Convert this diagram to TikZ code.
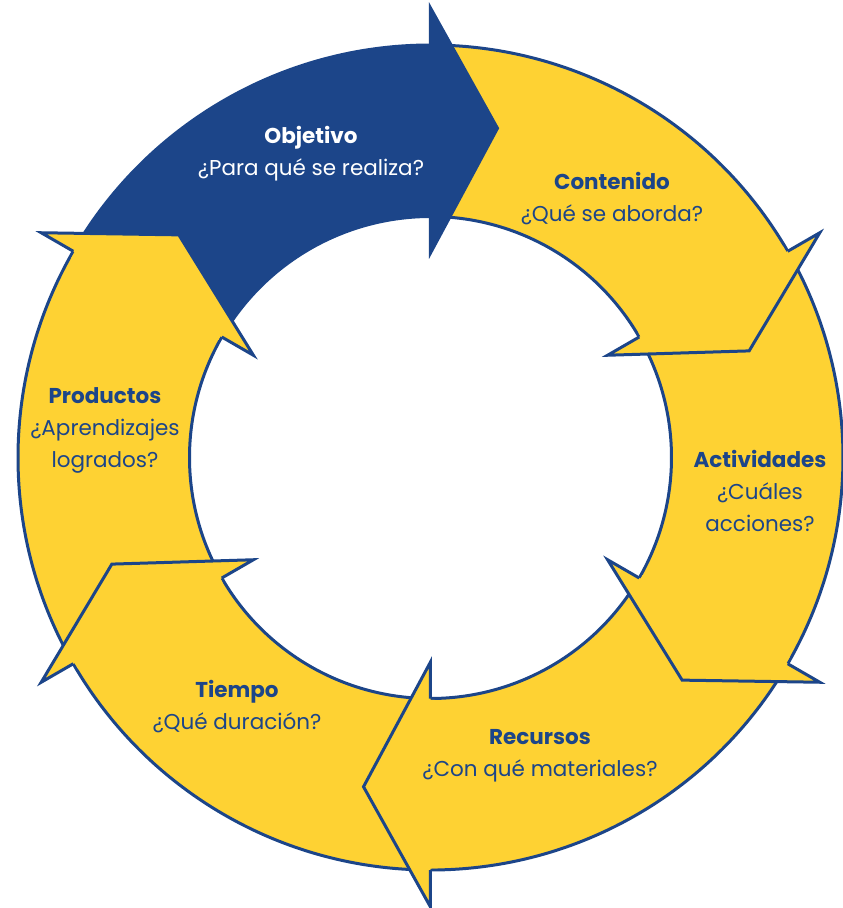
\documentclass[tikz,border=0pt]{standalone}
\usepackage{fontspec}
\setmainfont{Poppins}
\definecolor{azul}{HTML}{1C4589}
\definecolor{amarillo}{HTML}{FED233}
\tikzset{
  ciclo/.style={font=\fontsize{21.5}{32}\selectfont, align=center, text=azul},
  borde/.style={draw=azul, line width=3pt, line join=miter},
}
\begin{document}
\begin{tikzpicture}[x=1pt,y=1pt]
\useasboundingbox (-430.5,-450.5) rectangle (412.5,457.5);
% cuerpos de las flechas (con su punta)
\foreach \h/\c in {30/amarillo,-30/amarillo,-90/amarillo,-150/amarillo,150/amarillo,90/azul}{
  \fill[\c] ({\h+60}:412.5) arc[start angle=\h+60, end angle=\h, radius=412.5]
    -- (\h:449.5) -- ({\h-11.5}:336) -- (\h:204.5)
    -- (\h:241) arc[start angle=\h, end angle=\h+60, radius=241] -- cycle;
  \draw[borde] ({\h+60}:412.5) arc[start angle=\h+60, end angle=\h, radius=412.5];
  \draw[borde] (\h:241) arc[start angle=\h, end angle=\h+60, radius=241];
}
% puntas de las flechas, encima de la cola siguiente
\foreach \h/\c in {30/amarillo,-30/amarillo,-90/amarillo,-150/amarillo,150/amarillo,90/azul}{
  \fill[\c] (\h:449.5) -- ({\h-11.5}:336) -- (\h:204.5) -- (\h:242.5)
    -- ({\h+1}:242.5) -- ({\h+1}:411) -- (\h:411) -- cycle;
  \draw[borde] (\h:412.5) -- (\h:449.5) -- ({\h-11.5}:336) -- (\h:204.5) -- (\h:241);
}
% textos
\node[ciclo, text=white] (obj) at (-119.5,304) {\textbf{Objetivo}\\¿Para qué se realiza?};
\node[ciclo] (cont) at (181.5,258.5) {\textbf{Contenido}\\¿Qué se aborda?};
\node[ciclo] (act) at (329.5,-33.5) {\textbf{Actividades}\\¿Cuáles\\acciones?};
\node[ciclo] (rec) at (109.5,-298.5) {\textbf{Recursos}\\¿Con qué materiales?};
\node[ciclo] (tie) at (-193.5,-249.5) {\textbf{Tiempo}\\¿Qué duración?};
\node[ciclo] (prod) at (-325.5,27.5) {\textbf{Productos}\\¿Aprendizajes\\logrados?};
\end{tikzpicture}
\end{document}
